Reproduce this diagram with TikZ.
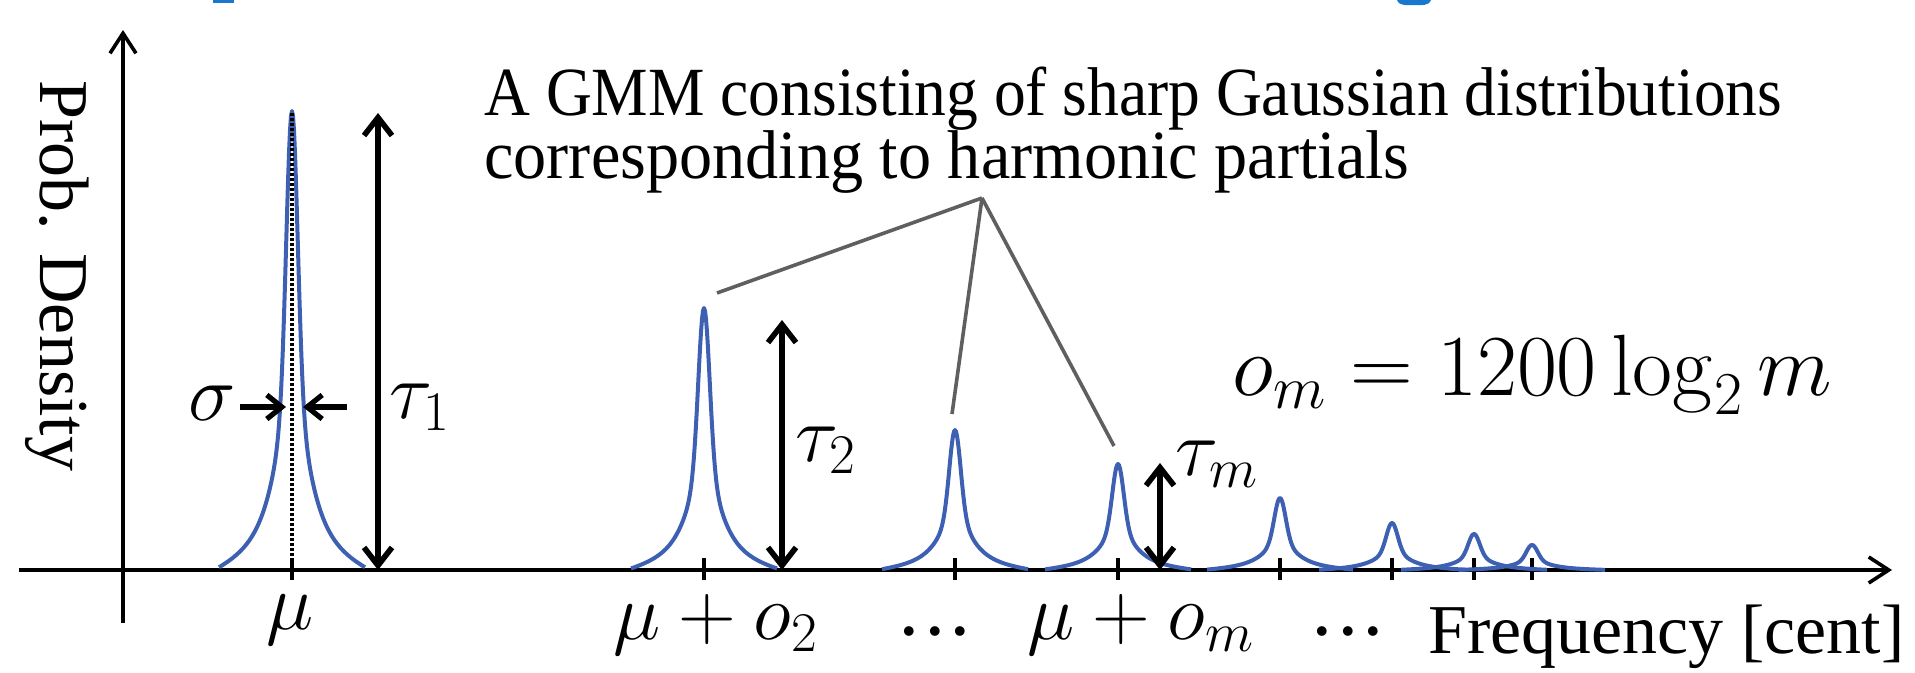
\RequirePackage{fix-cm}
\documentclass[tikz,border=0pt]{standalone}
\usepackage[no-math]{fontspec}
\setmainfont{Liberation Serif}
\newfontfamily\gmmfont{Liberation Serif}[FakeStretch=0.92]
\newfontfamily\gmmfontb{Liberation Serif}[FakeStretch=0.96]
\usetikzlibrary{arrows.meta}
\definecolor{peakblue}{RGB}{62,96,178}
\definecolor{leadgray}{RGB}{95,95,95}
\definecolor{titleblue}{RGB}{25,120,205}
\newcommand{\gpeak}[2]{%
  \draw[peakline] plot[domain=-73:73,samples=147]
    ({#1+\x},{570-#2*(0.6*exp(-min(\x*\x/60.5,20))+0.4/(1+\x*\x/400)-0.022*\x*\x/5329)});}
\tikzset{
  axisline/.style={line width=1.8pt,-{Straight Barb[length=10pt,width=13pt]}},
  tickline/.style={line width=2pt},
  peakline/.style={peakblue,line width=2pt,line join=round},
  dotline/.style={line width=1.7pt,dash pattern=on 1.5pt off 1pt},
  tauarrow/.style={line width=2.8pt,{Straight Barb[length=9pt,width=14pt]}-{Straight Barb[length=9pt,width=14pt]}},
  sigarrow/.style={line width=2.6pt,-{Straight Barb[length=7.5pt,width=12pt]}},
  leader/.style={leadgray,line width=1.8pt},
  mlabel/.style={inner sep=0pt,font=\fontsize{40}{40}\selectfont},
  dotslbl/.style={inner sep=0pt,font=\fontsize{46}{46}\selectfont},
  formula/.style={inner sep=0pt,font=\fontsize{43.5}{43.5}\selectfont},
  gmmtxt/.style={inner sep=0pt,font=\gmmfont\fontsize{34.5}{34.5}\selectfont},
  gmmtxtb/.style={inner sep=0pt,font=\gmmfontb\fontsize{34.5}{34.5}\selectfont},
  bigtxt/.style={inner sep=0pt,font=\fontsize{35}{35}\selectfont},
  ytxt/.style={inner sep=0pt,font=\fontsize{35}{35}\selectfont},
}
\begin{document}
\begin{tikzpicture}[x=0.5pt,y=-0.5pt]
\useasboundingbox (0,0) rectangle (1915,673);
% cut-off title fragments
\fill[titleblue] (213,0) rectangle (234,3);
\fill[titleblue] (1397,0) to[out=-70,in=180] (1414,5) to[out=0,in=-110] (1431,0) -- cycle;
% axes
\coordinate (xs) at (19,570);
\coordinate (xe) at (1892,570);
\coordinate (ys) at (123,623);
\coordinate (ye) at (123,30);
\draw[axisline] (xs) -- (xe);
\draw[axisline] (ys) -- (ye);
% ticks
\foreach \x in {292,704,955,1118,1280,1392,1474,1532}
  \draw[tickline] (\x,558) -- (\x,580);
% peaks
\gpeak{292}{459}
\gpeak{704}{262}
\gpeak{955}{140}
\gpeak{1118}{106}
\gpeak{1280}{72}
\gpeak{1392}{47}
\gpeak{1474}{36}
\gpeak{1532}{25}
% dotted centre line
\coordinate (mutop) at (292,113);
\coordinate (mubot) at (292,580);
\draw[dotline] (mutop) -- (mubot);
% sigma arrows
\coordinate (sigLs) at (240,407);
\coordinate (sigLe) at (286,407);
\coordinate (sigRs) at (347,407);
\coordinate (sigRe) at (303,407);
\draw[sigarrow] (sigLs) -- (sigLe);
\draw[sigarrow] (sigRs) -- (sigRe);
% tau arrows
\coordinate (t1top) at (378,113);
\coordinate (t1bot) at (378,570);
\coordinate (t2top) at (782,320);
\coordinate (t2bot) at (782,570);
\coordinate (tmtop) at (1160,463);
\coordinate (tmbot) at (1160,570);
\draw[tauarrow] (t1bot) -- (t1top);
\draw[tauarrow] (t2bot) -- (t2top);
\draw[tauarrow] (tmbot) -- (tmtop);
% labels
\node[ytxt,rotate=-90,anchor=base west] (ylab) at (40,80) {Prob. Density};
\node[gmmtxt,anchor=base west] (gmm1) at (484,116) {A GMM consisting of sharp Gaussian distributions};
\node[gmmtxtb,anchor=base west] (gmm2) at (484,179) {corresponding to harmonic partials};
\node[mlabel,anchor=base] (sigma) at (212,420) {$\sigma$};
\node[mlabel,anchor=base west] (tau1) at (389,418) {$\tau_1$};
\node[mlabel,anchor=base west] (tau2) at (795,461) {$\tau_2$};
\node[mlabel,anchor=base west] (taum) at (1175,475) {$\tau_m$};
\node[formula,anchor=base west] (omf) at (1232,395) {$o_m = 1200\log_2 m$};
\node[mlabel,anchor=base] (mu) at (290,629) {$\mu$};
\node[mlabel,anchor=base] (muo2) at (716,639) {$\mu+o_2$};
\node[dotslbl,anchor=base] (dots1) at (935,654) {${\cdot}{\cdot}{\cdot}$};
\node[mlabel,anchor=base] (muom) at (1141,639) {$\mu+o_m$};
\node[dotslbl,anchor=base] (dots2) at (1348,654) {${\cdot}{\cdot}{\cdot}$};
\node[bigtxt,anchor=base west] (freq) at (1428,653) {Frequency [cent]};
% leader lines
\coordinate (apex) at (982,198);
\coordinate (lead2) at (717,293);
\coordinate (lead3) at (952,414);
\coordinate (leadm) at (1114,446);
\draw[leader] (apex) -- (lead2);
\draw[leader] (apex) -- (lead3);
\draw[leader] (apex) -- (leadm);
\end{tikzpicture}
\end{document}
